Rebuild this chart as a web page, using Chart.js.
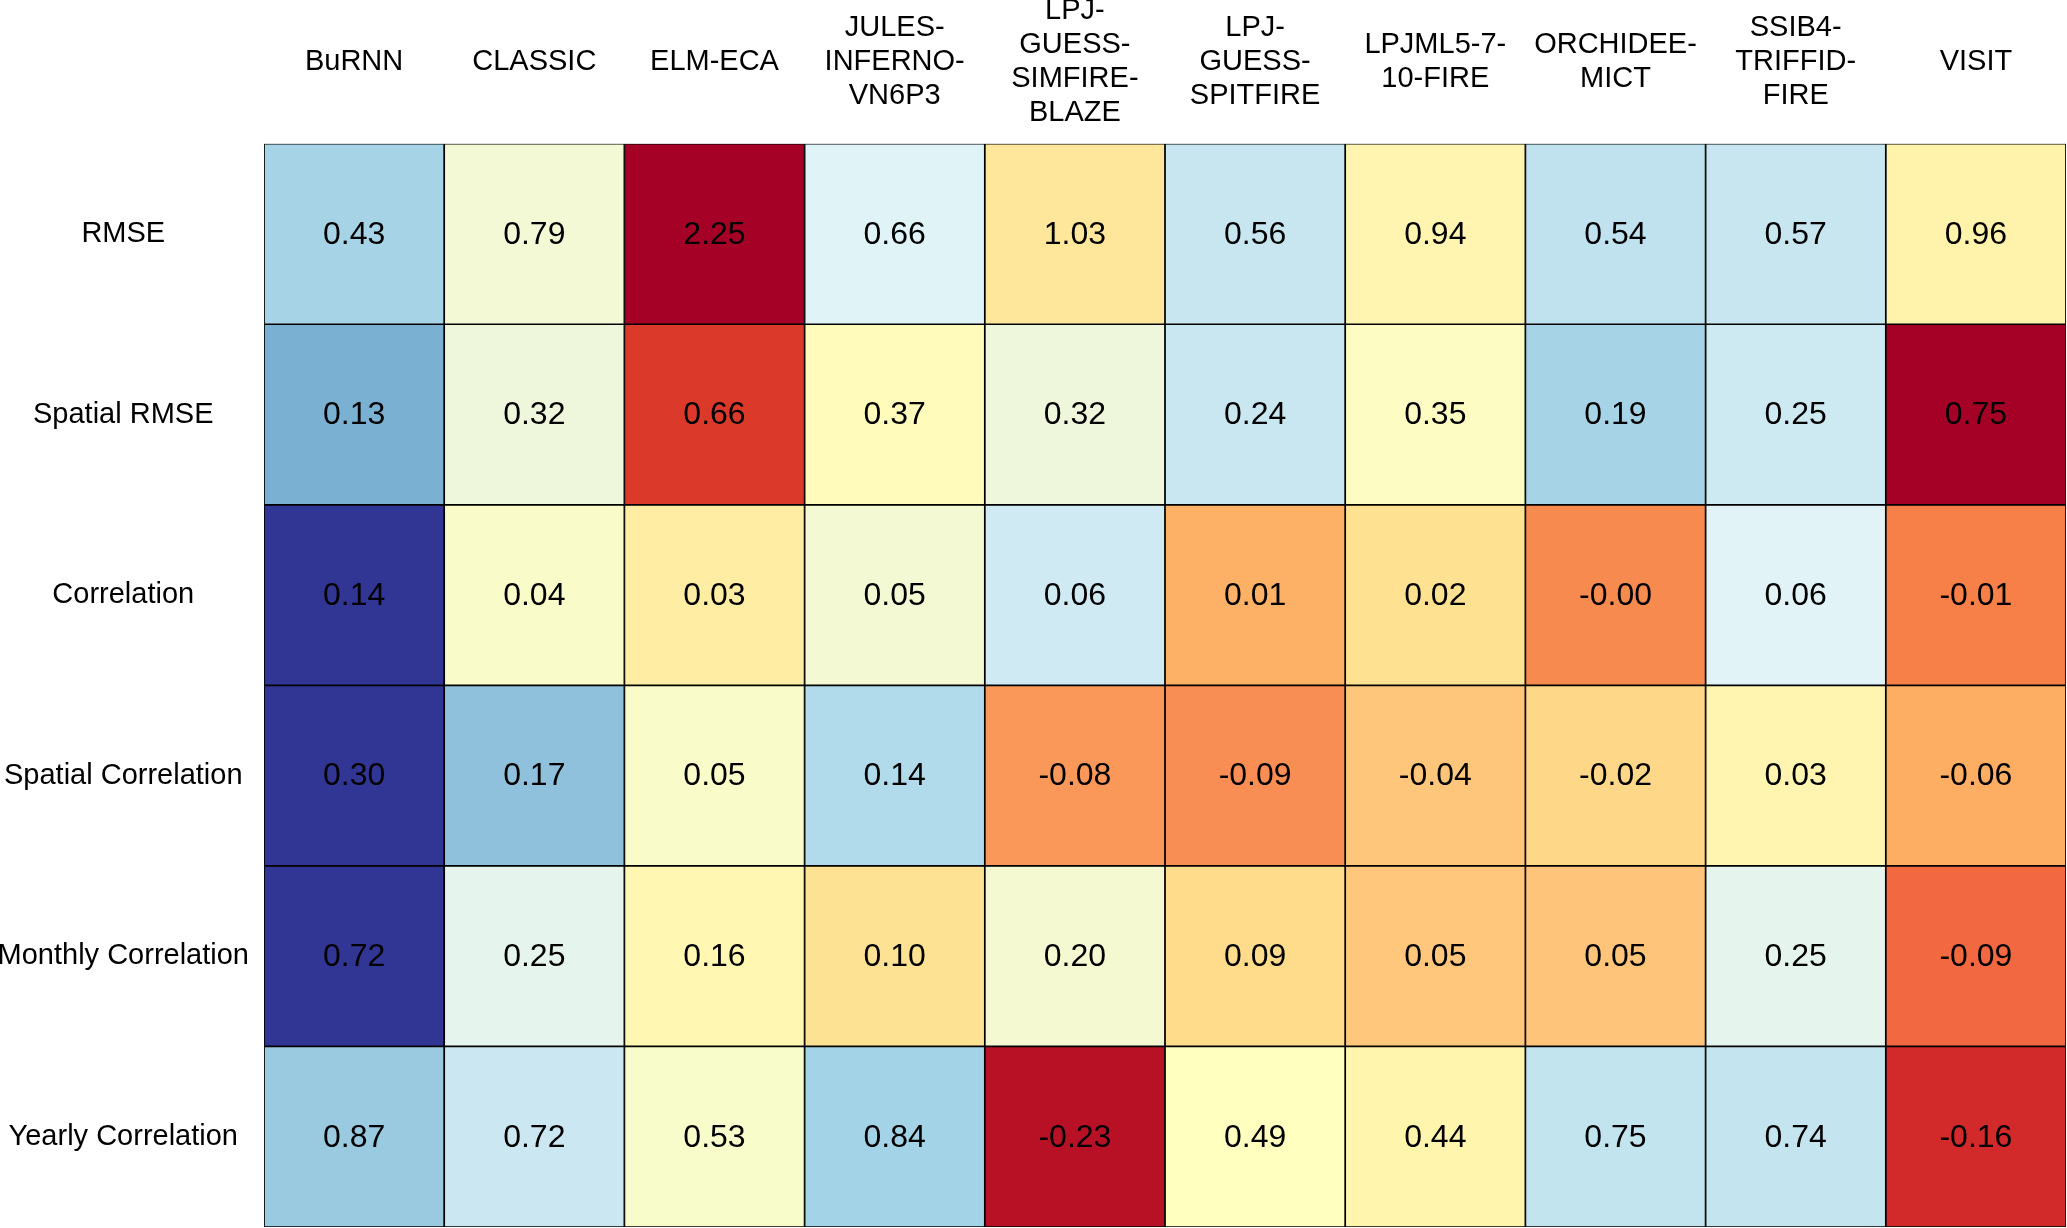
<!DOCTYPE html>
<html>
<head>
<meta charset="utf-8">
<script src="https://cdn.jsdelivr.net/npm/chart.js@4"></script>
<style>
  html, body { margin: 0; padding: 0; background: #ffffff; }
  #wrap { width: 2067px; height: 1228px; }
</style>
</head>
<body>
<div id="wrap"><canvas id="c" width="2067" height="1228"></canvas></div>
<script>
// ---- data ----
const models = ['BuRNN', 'CLASSIC', 'ELM-ECA', ['JULES-', 'INFERNO-', 'VN6P3'],
  ['LPJ-', 'GUESS-', 'SIMFIRE-', 'BLAZE'], ['LPJ-', 'GUESS-', 'SPITFIRE'],
  ['LPJML5-7-', '10-FIRE'], ['ORCHIDEE-', 'MICT'], ['SSIB4-', 'TRIFFID-', 'FIRE'], 'VISIT'];
const metrics = ['RMSE', 'Spatial RMSE', 'Correlation', 'Spatial Correlation',
  'Monthly Correlation', 'Yearly Correlation'];

const rmse               = [0.43, 0.79, 2.25, 0.66, 1.03, 0.56, 0.94, 0.54, 0.57, 0.96];
const spatialRmse        = [0.13, 0.32, 0.66, 0.37, 0.32, 0.24, 0.35, 0.19, 0.25, 0.75];
const correlation        = [0.14, 0.04, 0.03, 0.05, 0.06, 0.01, 0.02, -0.004, 0.06, -0.01];
const spatialCorrelation = [0.30, 0.17, 0.05, 0.14, -0.08, -0.09, -0.04, -0.02, 0.03, -0.06];
const monthlyCorrelation = [0.72, 0.25, 0.16, 0.10, 0.20, 0.09, 0.05, 0.05, 0.25, -0.09];
const yearlyCorrelation  = [0.87, 0.72, 0.53, 0.84, -0.23, 0.49, 0.44, 0.75, 0.74, -0.16];

const rows = [rmse, spatialRmse, correlation, spatialCorrelation, monthlyCorrelation, yearlyCorrelation];

// ---- cell colours (RdYlBu) ----
const rowColours = [
  ['#a6d4e6', '#f4f9d5', '#a50026', '#e0f3f7', '#fee79a', '#c7e6f0', '#fff5b0', '#bfe2ee', '#c7e6f0', '#fff2ab'],
  ['#7ab1d3', '#eef7dc', '#db3a2a', '#fefbbb', '#eef7dc', '#c9e7f1', '#fdfcc3', '#a6d4e6', '#cde9f2', '#a50026'],
  ['#313695', '#f9fcc8', '#feeda3', '#f3f9d3', '#d0eaf3', '#fdb166', '#fee191', '#f78b4f', '#e1f3f6', '#f78049'],
  ['#313695', '#8fc1dc', '#f9fcc8', '#b1dbea', '#f99858', '#f98e54', '#fec67a', '#fed888', '#fff5b0', '#fdae62'],
  ['#313695', '#e5f5ee', '#fff7b2', '#fee293', '#f4f9d2', '#fedc8c', '#fec77b', '#fec47a', '#e5f5ee', '#f26841'],
  ['#9acae0', '#cbe8f2', '#f8fccb', '#a3d3e6', '#b81126', '#ffffbf', '#fff5ac', '#c1e4ef', '#c4e4ef', '#d2292a']
];

const FONT = "'Liberation Sans', Arial, Helvetica, sans-serif";

const datasets = rows.map((vals, r) => ({
  label: metrics[r],
  data: vals.map(() => [r, r + 1]),
  values: vals,
  backgroundColor: rowColours[r],
  borderColor: '#000000',
  borderWidth: 1.2,
  borderSkipped: false,
  grouped: false,
  barPercentage: 1.0,
  categoryPercentage: 1.0
}));

const cellText = {
  id: 'cellText',
  afterDatasetsDraw(chart) {
    const ctx = chart.ctx;
    ctx.save();
    ctx.font = '32px ' + FONT;
    ctx.fillStyle = '#000000';
    ctx.textAlign = 'center';
    ctx.textBaseline = 'middle';
    chart.data.datasets.forEach((ds, di) => {
      const meta = chart.getDatasetMeta(di);
      meta.data.forEach((bar, i) => {
        const p = bar.getProps(['x', 'y', 'base'], true);
        ctx.fillText(ds.values[i].toFixed(2), p.x, (p.y + p.base) / 2 + 1);
      });
    });
    ctx.restore();
  }
};

new Chart(document.getElementById('c'), {
  type: 'bar',
  data: { labels: models, datasets },
  options: {
    responsive: false,
    devicePixelRatio: 1,
    animation: false,
    layout: { padding: { left: 0, top: 0, right: 1, bottom: 1 } },
    plugins: { legend: { display: false }, tooltip: { enabled: false }, title: { display: false } },
    scales: {
      x: {
        type: 'category',
        position: 'top',
        offset: true,
        grid: { display: false, drawTicks: false },
        border: { display: false },
        ticks: {
          color: '#000000',
          font: { family: FONT, size: 29, lineHeight: 1.17 },
          maxRotation: 0, minRotation: 0,
          autoSkip: false,
          crossAlign: 'center',
          padding: 31
        },
        afterFit(scale) {
          scale.height = 143.7;
          scale.paddingLeft = 0; scale.paddingRight = 0;
        }
      },
      y: {
        type: 'linear',
        min: 0, max: 6,
        reverse: true,
        grid: { display: false, drawTicks: false },
        border: { display: false },
        afterBuildTicks(scale) {
          scale.ticks = metrics.map((m, i) => ({ value: i + 0.5 }));
        },
        ticks: {
          color: '#000000',
          font: { family: FONT, size: 29 },
          crossAlign: 'center',
          padding: 15,
          callback(value) { return metrics[Math.floor(value)]; }
        },
        afterFit(scale) {
          scale.width = 264;
          scale.paddingTop = 0; scale.paddingBottom = 0;
        }
      }
    }
  },
  plugins: [cellText]
});
</script>
</body>
</html>
